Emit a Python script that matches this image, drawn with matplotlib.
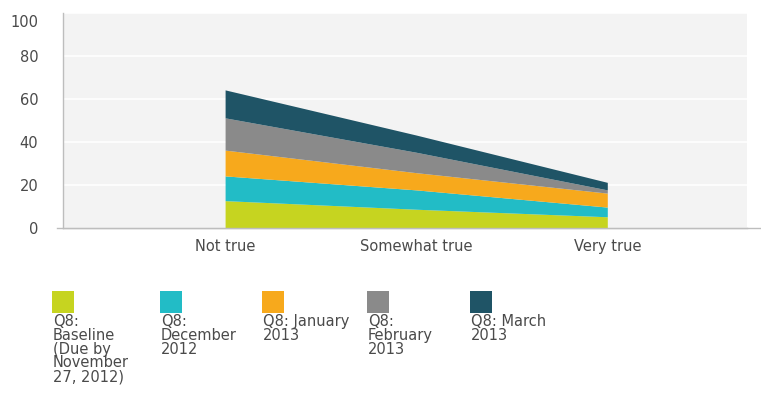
#########
# imports
#########

from matplotlib import pyplot as plt
from matplotlib.patches import Rectangle
from matplotlib.lines import Line2D
from matplotlib import transforms

##############
# define data
##############

categories = ['Not true', 'Somewhat true', 'Very true']

baseline = [12.5, 8.5, 5.0]
december = [11.5, 9.0, 4.5]
january = [12.0, 8.0, 6.5]
february = [15.0, 9.5, 1.5]
march = [13.0, 8.0, 3.5]

series_labels = ['Q8:\nBaseline\n(Due by\nNovember\n27, 2012)',
                 'Q8:\nDecember\n2012',
                 'Q8: January\n2013',
                 'Q8:\nFebruary\n2013',
                 'Q8: March\n2013']

y_ticks = [0, 20, 40, 60, 80, 100]

colors = ['#c6d420', '#22bcc6', '#f7a91c', '#8a8a8a', '#1f5466']

#################
# build the chart
#################

fig = plt.figure(figsize=(7.61, 4.05), dpi=100)
ax = fig.add_axes([0.083, 0.437, 0.899, 0.531])
ax.set_facecolor('#f3f3f3')

x = list(range(len(categories)))
ax.stackplot(x, baseline, december, january, february, march,
             colors=colors, linewidth=0, zorder=3)

# white gridlines on the grey plot area
ax.set_yticks(y_ticks)
ax.yaxis.grid(True, color='white', linewidth=1.2, zorder=1)
ax.set_axisbelow(True)

ax.set_xlim(-0.85, 2.73)
ax.set_ylim(0, 100)
ax.set_xticks(x)
ax.set_xticklabels(categories)

ax.tick_params(axis='both', length=0, labelsize=10.5, labelcolor='#4a4a4a')
ax.tick_params(axis='x', pad=8)
ax.tick_params(axis='y', pad=18)

# the top label sits a little inside the frame in the original
top_label = ax.get_yticklabels()[-1]
top_label.set_transform(top_label.get_transform() +
                        transforms.ScaledTranslation(0, -8 / 100.0, fig.dpi_scale_trans))

for side in ['top', 'right']:
    ax.spines[side].set_visible(False)
for side in ['left', 'bottom']:
    ax.spines[side].set_color('#bdbdbd')
    ax.spines[side].set_linewidth(1)

# bottom axis line runs past the plot area on both sides
W, H = 761.0, 405.0
y0 = ax.get_position().y0
fig.add_artist(Line2D([57 / W, 1.0], [y0, y0], transform=fig.transFigure,
                      color='#bdbdbd', linewidth=1))

################################
# legend: swatch with text below
################################

legend_x = [52, 160, 262, 367, 470]
for i in range(len(series_labels)):
    fig.patches.append(Rectangle((legend_x[i] / W, 1 - 313 / H), 22 / W, 22 / H,
                                 transform=fig.transFigure, facecolor=colors[i],
                                 edgecolor='none'))
    fig.text((legend_x[i] + 1) / W, 1 - 314 / H, series_labels[i],
             ha='left', va='top', fontsize=10.5, color='#4a4a4a',
             linespacing=0.9)

plt.savefig('out.png', dpi=100)
